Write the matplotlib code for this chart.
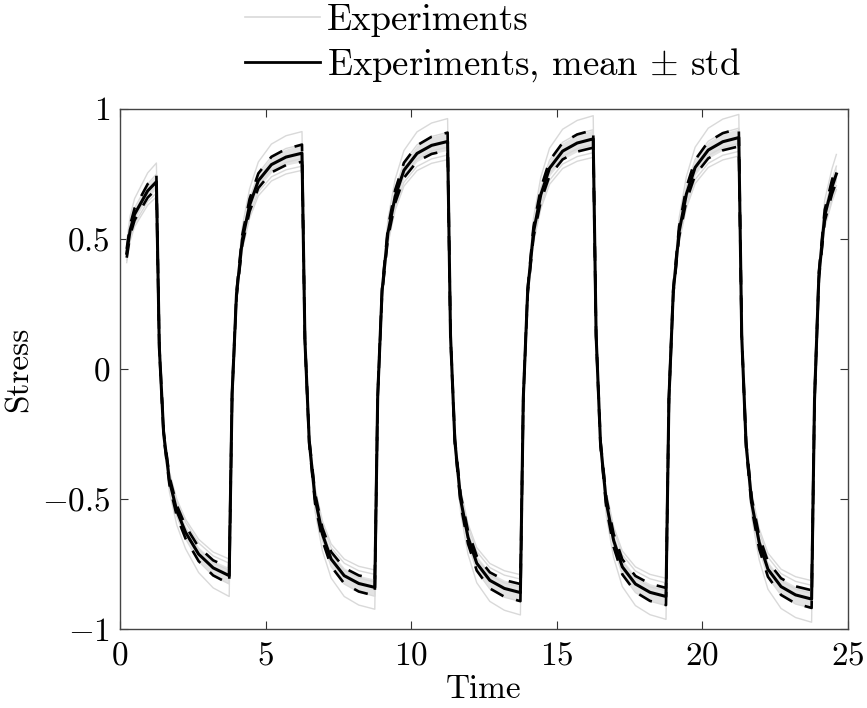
import matplotlib
matplotlib.use('Agg')
import matplotlib.pyplot as plt
from matplotlib.lines import Line2D
import numpy as np

plt.rcParams['font.family'] = 'cmr10'
plt.rcParams['mathtext.fontset'] = 'cm'
plt.rcParams['axes.formatter.use_mathtext'] = True

# time samples
time = [0.23, 0.35, 0.5, 0.7, 0.95, 1.25,
        1.35, 1.5, 1.7, 1.95, 2.25, 2.7, 3.2, 3.75,
        3.85, 4.0, 4.2, 4.45, 4.75, 5.2, 5.7, 6.25,
        6.35, 6.5, 6.7, 6.95, 7.25, 7.7, 8.2, 8.75,
        8.85, 9.0, 9.2, 9.45, 9.75, 10.2, 10.7, 11.25,
        11.35, 11.5, 11.7, 11.95, 12.25, 12.7, 13.2, 13.75,
        13.85, 14.0, 14.2, 14.45, 14.75, 15.2, 15.7, 16.25,
        16.35, 16.5, 16.7, 16.95, 17.25, 17.7, 18.2, 18.75,
        18.85, 19.0, 19.2, 19.45, 19.75, 20.2, 20.7, 21.25,
        21.35, 21.5, 21.7, 21.95, 22.25, 22.7, 23.2, 23.75,
        23.85, 24.0, 24.2, 24.45, 24.6]

stress_mean = [0.445, 0.535, 0.595, 0.635, 0.685, 0.72,
               0.084, -0.25, -0.431, -0.545, -0.628, -0.712, -0.765, -0.795,
               -0.096, 0.286, 0.497, 0.63, 0.724, 0.786, 0.815, 0.83,
               0.112, -0.281, -0.498, -0.635, -0.731, -0.795, -0.825, -0.84,
               -0.103, 0.3, 0.523, 0.664, 0.764, 0.829, 0.86, 0.875,
               0.129, -0.279, -0.504, -0.647, -0.747, -0.813, -0.844, -0.86,
               -0.11, 0.3, 0.527, 0.67, 0.772, 0.838, 0.869, 0.885,
               0.128, -0.285, -0.514, -0.659, -0.761, -0.827, -0.859, -0.875,
               -0.116, 0.299, 0.528, 0.673, 0.775, 0.842, 0.874, 0.89,
               0.127, -0.29, -0.521, -0.667, -0.77, -0.837, -0.869, -0.885,
               -0.117, 0.36, 0.59, 0.70, 0.75]

stress_std = [0.017, 0.02, 0.023, 0.024, 0.026, 0.028,
              0.004, 0.01, 0.016, 0.021, 0.024, 0.027, 0.029, 0.031,
              0.004, 0.011, 0.019, 0.024, 0.028, 0.03, 0.031, 0.033,
              0.004, 0.011, 0.019, 0.024, 0.028, 0.03, 0.031, 0.032,
              0.004, 0.011, 0.02, 0.025, 0.029, 0.031, 0.033, 0.034,
              0.005, 0.011, 0.019, 0.025, 0.028, 0.031, 0.032, 0.033,
              0.004, 0.011, 0.02, 0.025, 0.029, 0.032, 0.033, 0.034,
              0.005, 0.011, 0.02, 0.025, 0.029, 0.031, 0.033, 0.033,
              0.004, 0.011, 0.02, 0.026, 0.029, 0.032, 0.033, 0.034,
              0.005, 0.011, 0.02, 0.025, 0.029, 0.032, 0.033, 0.034,
              0.004, 0.014, 0.022, 0.027, 0.029]

exp1 = [0.49, 0.589, 0.655, 0.699, 0.754, 0.792,
        0.092, -0.275, -0.474, -0.6, -0.691, -0.783, -0.842, -0.875,
        -0.106, 0.315, 0.547, 0.693, 0.796, 0.865, 0.897, 0.913,
        0.123, -0.309, -0.548, -0.699, -0.804, -0.875, -0.908, -0.924,
        -0.113, 0.33, 0.575, 0.73, 0.84, 0.912, 0.946, 0.963,
        0.142, -0.307, -0.554, -0.712, -0.822, -0.894, -0.928, -0.946,
        -0.121, 0.33, 0.58, 0.737, 0.849, 0.922, 0.956, 0.974,
        0.141, -0.314, -0.565, -0.725, -0.837, -0.91, -0.945, -0.963,
        -0.128, 0.329, 0.581, 0.74, 0.853, 0.926, 0.961, 0.979,
        0.14, -0.319, -0.573, -0.734, -0.847, -0.921, -0.956, -0.974,
        -0.129, 0.396, 0.649, 0.77, 0.825]

exp2 = [0.463, 0.556, 0.619, 0.66, 0.712, 0.749,
        0.087, -0.26, -0.448, -0.567, -0.653, -0.74, -0.796, -0.827,
        -0.1, 0.297, 0.517, 0.655, 0.753, 0.817, 0.848, 0.863,
        0.116, -0.292, -0.518, -0.66, -0.76, -0.827, -0.858, -0.874,
        -0.107, 0.312, 0.544, 0.691, 0.795, 0.862, 0.894, 0.91,
        0.134, -0.29, -0.524, -0.673, -0.777, -0.846, -0.878, -0.894,
        -0.114, 0.312, 0.548, 0.697, 0.803, 0.872, 0.904, 0.92,
        0.133, -0.296, -0.535, -0.685, -0.791, -0.86, -0.893, -0.91,
        -0.121, 0.311, 0.549, 0.7, 0.806, 0.876, 0.909, 0.926,
        0.132, -0.302, -0.542, -0.694, -0.801, -0.87, -0.904, -0.92,
        -0.122, 0.374, 0.614, 0.728, 0.78]

exp3 = [0.434, 0.522, 0.58, 0.619, 0.668, 0.702,
        0.082, -0.244, -0.42, -0.531, -0.612, -0.694, -0.746, -0.775,
        -0.094, 0.279, 0.485, 0.614, 0.706, 0.766, 0.795, 0.809,
        0.109, -0.274, -0.486, -0.619, -0.713, -0.775, -0.804, -0.819,
        -0.1, 0.293, 0.51, 0.647, 0.745, 0.808, 0.839, 0.853,
        0.126, -0.272, -0.491, -0.631, -0.728, -0.793, -0.823, -0.839,
        -0.107, 0.293, 0.514, 0.653, 0.753, 0.817, 0.847, 0.863,
        0.125, -0.278, -0.501, -0.643, -0.742, -0.806, -0.838, -0.853,
        -0.113, 0.292, 0.515, 0.656, 0.756, 0.821, 0.852, 0.868,
        0.124, -0.283, -0.508, -0.65, -0.751, -0.816, -0.847, -0.863,
        -0.114, 0.351, 0.575, 0.683, 0.731]

exp4 = [0.418, 0.503, 0.559, 0.597, 0.644, 0.677,
        0.079, -0.235, -0.405, -0.512, -0.59, -0.669, -0.719, -0.747,
        -0.09, 0.269, 0.467, 0.592, 0.681, 0.739, 0.766, 0.78,
        0.105, -0.264, -0.468, -0.597, -0.687, -0.747, -0.776, -0.79,
        -0.097, 0.282, 0.492, 0.624, 0.718, 0.779, 0.808, 0.823,
        0.121, -0.262, -0.474, -0.608, -0.702, -0.764, -0.793, -0.808,
        -0.103, 0.282, 0.495, 0.63, 0.726, 0.788, 0.817, 0.832,
        0.12, -0.268, -0.483, -0.619, -0.715, -0.777, -0.807, -0.823,
        -0.109, 0.281, 0.496, 0.633, 0.729, 0.791, 0.822, 0.837,
        0.119, -0.273, -0.49, -0.627, -0.724, -0.787, -0.817, -0.832,
        -0.11, 0.338, 0.555, 0.658, 0.705]

exp5 = [0.409, 0.492, 0.547, 0.584, 0.63, 0.662,
        0.077, -0.23, -0.397, -0.501, -0.578, -0.655, -0.704, -0.731,
        -0.088, 0.263, 0.457, 0.58, 0.666, 0.723, 0.75, 0.764,
        0.103, -0.259, -0.458, -0.584, -0.673, -0.731, -0.759, -0.773,
        -0.095, 0.276, 0.481, 0.611, 0.703, 0.763, 0.791, 0.805,
        0.119, -0.257, -0.464, -0.595, -0.687, -0.748, -0.776, -0.791,
        -0.101, 0.276, 0.485, 0.616, 0.71, 0.771, 0.799, 0.814,
        0.118, -0.262, -0.473, -0.606, -0.7, -0.761, -0.79, -0.805,
        -0.107, 0.275, 0.486, 0.619, 0.713, 0.775, 0.804, 0.819,
        0.117, -0.267, -0.479, -0.614, -0.708, -0.77, -0.799, -0.814,
        -0.108, 0.331, 0.543, 0.644, 0.69]

experiments = [exp1, exp2, exp3, exp4, exp5]

xticks = [0, 5, 10, 15, 20, 25]
xticklabels = ['$0$', '$5$', '$10$', '$15$', '$20$', '$25$']
yticks = [-1, -0.5, 0, 0.5, 1]
yticklabels = ['$-1$', '$-0.5$', '$0$', '$0.5$', '$1$']

t = np.array(time)
m = np.array(stress_mean)
s = np.array(stress_std)

fig = plt.figure(figsize=(8.67, 7.08), dpi=100)
ax = fig.add_axes([0.1384, 0.1116, 0.8397, 0.7345])

grey = '#d9d9d9'
ax.fill_between(t, m - s, m + s, color='#e3e3e3', lw=0, zorder=1)
for e in experiments:
    ax.plot(t, e, color=grey, lw=1.0, zorder=2)
ax.plot(t, m + s, color='k', lw=1.9, ls=(0, (5.5, 5)), zorder=3)
ax.plot(t, m - s, color='k', lw=1.9, ls=(0, (5.5, 5)), zorder=3)
ax.plot(t, m, color='k', lw=2.2, zorder=4)

ax.set_xlim(0, 25)
ax.set_ylim(-1, 1)
ax.set_xticks(xticks)
ax.set_xticklabels(xticklabels)
ax.set_yticks(yticks)
ax.set_yticklabels(yticklabels)
ax.tick_params(direction='in', length=6, width=0.8, top=True, right=True,
               labelsize=24, color='#333333')
ax.tick_params(axis='x', pad=9)
ax.tick_params(axis='y', pad=7)
for sp in ax.spines.values():
    sp.set_color('#444444')
    sp.set_linewidth(1.0)

ax.set_xlabel('Time', fontsize=24, labelpad=3)
ax.set_ylabel('Stress', fontsize=24, labelpad=6)

handles = [Line2D([], [], color=grey, lw=1.2),
           Line2D([], [], color='k', lw=2.0)]
fig.legend(handles, ['Experiments', 'Experiments, mean $\\pm$ std'],
           loc='upper left', bbox_to_anchor=(245 / 867, 1 - 4 / 708),
           frameon=False, fontsize=26.5, handlelength=2.05,
           handletextpad=0.18, labelspacing=0.24, borderpad=0,
           borderaxespad=0.0)

fig.savefig('out.png', dpi=100)
